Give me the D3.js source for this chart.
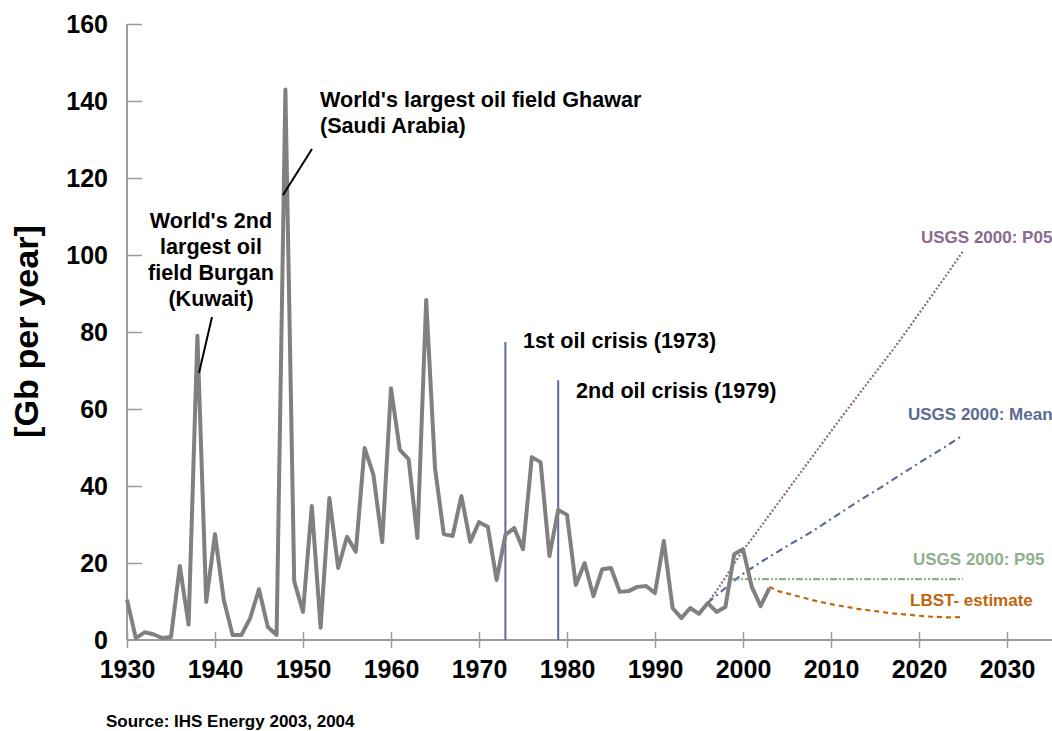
<!DOCTYPE html>
<html>
<head>
<meta charset="utf-8">
<script src="https://cdn.jsdelivr.net/npm/d3@7/dist/d3.min.js"></script>
<style>
  html, body { margin: 0; padding: 0; background: #fff; }
  svg { display: block; font-family: "Liberation Sans", Arial, Helvetica, sans-serif; font-weight: bold; }
</style>
</head>
<body>
<svg id="chart" width="1052" height="731"></svg>
<script>
// ---- Data ----
const discoveryYears = d3.range(1930, 2004);
const discoveryValues = [
  10.5, 0.5, 2, 1.5, 0.5, 0.8, 19.2, 4, 79, 9.9,
  27.5, 10.4, 1.3, 1.3, 5.7, 13.2, 3.4, 1.3, 143, 15.3,
  7.3, 34.8, 3.2, 36.9, 18.7, 26.8, 22.9, 49.9, 42.9, 25.4,
  65.4, 49.4, 47, 26.5, 88.3, 44.7, 27.5, 27, 37.4, 25.5,
  30.6, 29.4, 15.6, 27.3, 29.1, 23.6, 47.5, 46.2, 21.8, 33.8,
  32.5, 14.3, 20, 11.4, 18.4, 18.7, 12.5, 12.7, 13.8, 14,
  12.2, 25.7, 8.3, 5.7, 8.3, 6.8, 9.6, 7.3, 8.6, 22.3,
  23.6, 13.8, 8.8, 13.5
];

const usgsYears = d3.range(1996, 2026);
const p05Values = [
  9.6, 12.8, 16.2, 19.8, 23.3, 26.3, 29.4, 32.5, 35.6, 38.7,
  41.8, 44.9, 48.0, 51.1, 54.2, 57.3, 60.3, 63.3, 66.3, 69.3,
  72.3, 75.3, 78.4, 81.6, 84.8, 88.0, 91.2, 94.4, 97.7, 101
];
const meanValues = [
  9.7, 11.6, 13.5, 15.4, 17.2, 18.7, 20.2, 21.6, 23.0, 24.4,
  25.7, 27.0, 28.4, 29.9, 31.4, 32.9, 34.4, 35.9, 37.3, 38.7,
  40.1, 41.6, 43.1, 44.5, 46.0, 47.4, 48.8, 50.2, 51.7, 53.2
];
const p95Years = [1998.3, 2025];
const p95Values = [15.8, 15.8];

const lbstYears = d3.range(2003, 2026);
const lbstValues = [
  13.8, 12.7, 12.1, 11.5, 10.9, 10.3, 9.8, 9.3, 8.9, 8.5,
  8.1, 7.8, 7.5, 7.2, 6.9, 6.7, 6.5, 6.3, 6.1, 6.0,
  5.9, 5.9, 6.0
];

const xTickValues = d3.range(1930, 2031, 10);
const yTickValues = d3.range(0, 161, 20);

const crisisYears = [1973, 1979];
const crisisTops = [77.4, 67.5];
const crisisLabels = ["1st oil crisis (1973)", "2nd oil crisis (1979)"];

const seriesLabels = ["USGS 2000: P05", "USGS 2000: Mean", "USGS 2000: P95", "LBST- estimate"];

// ---- Chart ----
const svg = d3.select("#chart");
const x = d3.scaleLinear().domain([1930, 2030]).range([127, 1007]);
const y = d3.scaleLinear().domain([0, 160]).range([640, 24]);
const axisColor = "#9a9a9a";

// X axis
const xAxis = svg.append("g")
  .attr("transform", `translate(0,${y(0)})`)
  .call(d3.axisBottom(x).tickValues(xTickValues).tickFormat(d3.format("d")).tickSize(8).tickSizeOuter(0));
xAxis.select(".domain").remove();
xAxis.append("line").attr("x1", x(1930)).attr("x2", 1052).attr("y1", 0).attr("y2", 0)
  .attr("stroke", axisColor).attr("stroke-width", 2);
xAxis.selectAll(".tick line").attr("y1", -8).attr("y2", 8).attr("stroke", axisColor).attr("stroke-width", 1.5);
xAxis.selectAll(".tick text").attr("dy", null).attr("y", 38)
  .attr("fill", "#000").style("font-size", "25px").style("font-weight", "bold")
  .style("font-family", "'Liberation Sans', Arial, sans-serif");

// Y axis
const yAxis = svg.append("g")
  .attr("transform", `translate(${x(1930)},0)`)
  .call(d3.axisLeft(y).tickValues(yTickValues).tickSize(0).tickSizeOuter(0).tickPadding(19));
yAxis.select(".domain").remove();
yAxis.append("line").attr("x1", 0).attr("x2", 0).attr("y1", y(160)).attr("y2", y(0))
  .attr("stroke", axisColor).attr("stroke-width", 2);
yAxis.selectAll(".tick").filter(d => d !== 0).append("line")
  .attr("x1", 0).attr("x2", 15).attr("stroke", axisColor).attr("stroke-width", 1.5);
yAxis.selectAll(".tick text")
  .attr("fill", "#000").style("font-size", "25px").style("font-weight", "bold")
  .style("font-family", "'Liberation Sans', Arial, sans-serif");

// Y title
svg.append("text")
  .attr("transform", "translate(38,331.5) rotate(-90)")
  .attr("text-anchor", "middle")
  .attr("textLength", 213)
  .attr("lengthAdjust", "spacingAndGlyphs")
  .style("font-size", "34px")
  .text("[Gb per year]");

// Crisis lines
crisisYears.forEach((yr, i) => {
  svg.append("line")
    .attr("x1", x(yr)).attr("x2", x(yr))
    .attr("y1", y(crisisTops[i])).attr("y2", y(0))
    .attr("stroke", "#5b6a9a").attr("stroke-width", 2);
});
svg.append("text").attr("x", 523).attr("y", 348).style("font-size", "21.6px").text(crisisLabels[0]);
svg.append("text").attr("x", 576).attr("y", 398).style("font-size", "21.6px").text(crisisLabels[1]);

const line = d3.line().x(d => x(d[0])).y(d => y(d[1]));

// Projections
function proj(years, values, color, dash) {
  svg.append("path")
    .datum(years.map((yr, i) => [yr, values[i]]))
    .attr("d", line)
    .attr("fill", "none")
    .attr("stroke", color)
    .attr("stroke-width", 2.2)
    .attr("stroke-dasharray", dash);
}
proj(usgsYears, p05Values, "#8c6a8e", "2,2");
proj(usgsYears, meanValues, "#5c6a94", "7,4,2,4");
proj(p95Years, p95Values, "#8fb08a", "7,2,2,2,2,2");
proj(lbstYears, lbstValues, "#c0660c", "5,4");

// Discoveries line
svg.append("path")
  .datum(discoveryYears.map((yr, i) => [yr, discoveryValues[i]]))
  .attr("d", line)
  .attr("fill", "none")
  .attr("stroke", "#808080")
  .attr("stroke-width", 4)
  .attr("stroke-linejoin", "round");

// Series labels
const labelStyle = [
  {x: 921, y: 243, c: "#8c6a8e"},
  {x: 908, y: 420, c: "#5c6a94"},
  {x: 913, y: 565, c: "#8fb08a"},
  {x: 910, y: 606, c: "#c0660c"}
];
seriesLabels.forEach((t, i) => {
  svg.append("text").attr("x", labelStyle[i].x).attr("y", labelStyle[i].y)
    .attr("fill", labelStyle[i].c).style("font-size", "17px").text(t);
});

// Annotations
const ghawar = svg.append("text").style("font-size", "21.6px");
ghawar.append("tspan").attr("x", 320).attr("y", 107).text("World's largest oil field Ghawar");
ghawar.append("tspan").attr("x", 320).attr("y", 133).text("(Saudi Arabia)");
svg.append("line").attr("x1", 312).attr("y1", 149).attr("x2", 283).attr("y2", 195)
  .attr("stroke", "#000").attr("stroke-width", 2);

const burgan = svg.append("text").style("font-size", "21.6px").attr("text-anchor", "middle");
["World's 2nd", "largest oil", "field Burgan", "(Kuwait)"].forEach((t, i) => {
  burgan.append("tspan").attr("x", 211).attr("y", 228 + i * 26).text(t);
});
svg.append("line").attr("x1", 212).attr("y1", 317).attr("x2", 199).attr("y2", 373)
  .attr("stroke", "#000").attr("stroke-width", 2);

// Source
svg.append("text").attr("x", 106).attr("y", 727).style("font-size", "17px").text("Source: IHS Energy 2003, 2004");
</script>
</body>
</html>
